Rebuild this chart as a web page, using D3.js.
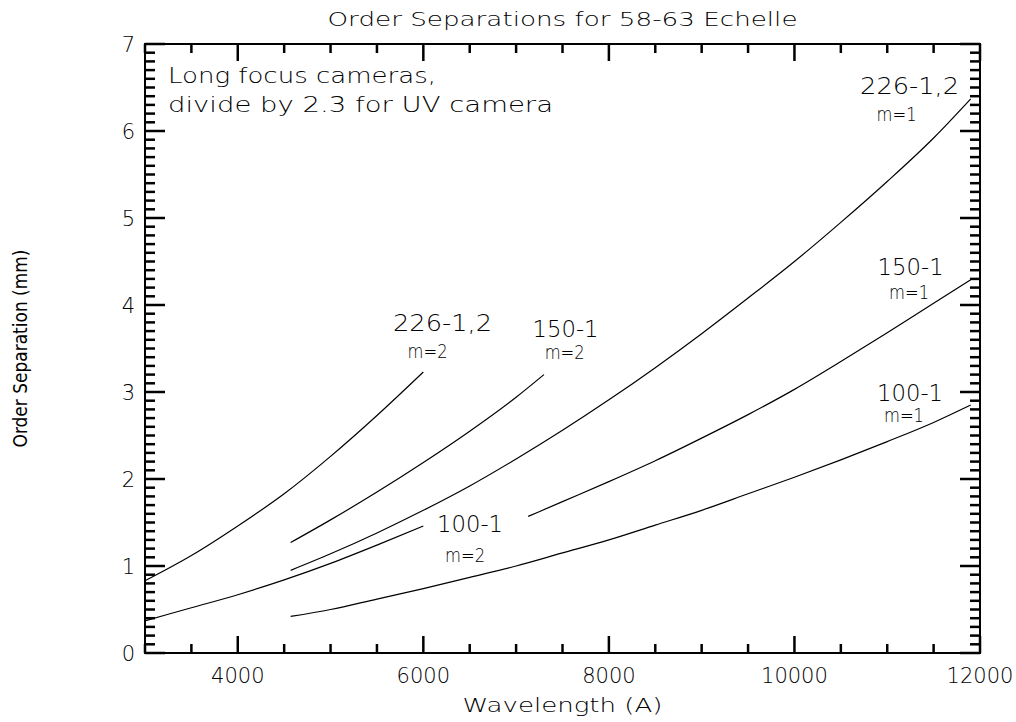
<!DOCTYPE html>
<html>
<head>
	<meta charset="utf-8">
	<title>Order Separations for 58-63 Echelle</title>
	<style>
		body { margin: 0; background: #fff; }
		svg { display: block; background: #fff; }
		text { font-family: "DejaVu Sans", sans-serif; font-weight: 200; fill: #000; }
		.ticklabel { font-size: 21px; }
	</style>
</head>
<body>
<div id="chart"></div>
<script src="https://d3js.org/d3.v7.min.js"></script>
<script>
	// curves: [wavelength (A), separation (mm)]
	var g226m2 = [[3000,0.83],[3500,1.12],[4000,1.46],[4500,1.83],[5000,2.26],[5500,2.73],[6000,3.23]];
	var g100m2 = [[3000,0.37],[3500,0.52],[4000,0.67],[4500,0.84],[5000,1.03],[5500,1.24],[6000,1.46]];
	var g150m2 = [[4570,1.27],[5000,1.53],[5500,1.85],[6000,2.19],[6500,2.55],[7000,2.94],[7300,3.20]];
	var g226m1 = [[4570,0.95],[5000,1.14],[5500,1.38],[6000,1.64],[6500,1.92],[7000,2.23],[7500,2.56],[8000,2.91],
		[8500,3.28],[9000,3.67],[9500,4.08],[10000,4.50],[10500,4.95],[11000,5.42],[11500,5.92],[11900,6.37]];
	var g150m1 = [[7130,1.57],[7500,1.74],[8000,1.97],[8500,2.21],[9000,2.47],[9500,2.74],[10000,3.03],
		[10500,3.35],[11000,3.68],[11500,4.02],[11900,4.29]];
	var g100m1 = [[4570,0.42],[5000,0.50],[5500,0.62],[6000,0.74],[6500,0.87],[7000,1.00],[7500,1.15],[8000,1.30],
		[8500,1.47],[9000,1.64],[9500,1.83],[10000,2.02],[10500,2.22],[11000,2.43],[11500,2.65],[11900,2.85]];

	var curves = [g226m2, g100m2, g150m2, g226m1, g150m1, g100m1];

	// tick values
	var xTicks = [4000, 6000, 8000, 10000, 12000];
	var yTicks = [0, 1, 2, 3, 4, 5, 6, 7];

	// curve labels: grating, order, anchor in data units
	var labelNames = ["226-1,2", "150-1", "100-1", "226-1,2", "150-1", "100-1"];
	var labelOrders = ["m=2", "m=2", "m=2", "m=1", "m=1", "m=1"];
	var labelAt = [[6207,3.70],[7533,3.63],[6504,1.39],[11241,6.43],[11252,4.34],[11246,2.90]];
	var orderAt = [[6046,3.39],[7523,3.38],[6450,1.05],[11101,6.12],[11236,4.07],[11181,2.65]];

	var margin = {top: 44, right: 36, bottom: 69, left: 145},
		width = 1016 - margin.left - margin.right,
		height = 722 - margin.top - margin.bottom;

	var root = d3.select("#chart")
		.append("svg")
			.attr("width", 1016)
			.attr("height", 722);
	var svg = root.append("g")
			.attr("transform", "translate(" + margin.left + "," + margin.top + ")");

	var x = d3.scaleLinear().domain([3000, 12000]).range([0, width]);
	var y = d3.scaleLinear().domain([0, 7]).range([height, 0]);

	var xMinor = d3.range(3000, 12001, 500);
	var yMinor = d3.range(0, 71, 1).map(function(d) { return d / 10; });

	svg.append("rect")
		.attr("width", width).attr("height", height)
		.attr("fill", "none")
		.attr("stroke", "#000")
		.attr("stroke-width", 2);

	// curves
	var line = d3.line()
		.x(function(d) { return x(d[0]); })
		.y(function(d) { return y(d[1]); })
		.curve(d3.curveMonotoneX);
	svg.selectAll("path.curve")
		.data(curves)
		.enter()
		.append("path")
		.attr("class", "curve")
		.attr("fill", "none")
		.attr("stroke", "#000")
		.attr("stroke-width", 1.2)
		.attr("d", line);

	// inward ticks on all four sides, long ones on the labelled values
	function xLen(d) { return d % 2000 === 0 ? 17 : 9; }
	function yLen(d) { return Math.abs(d - Math.round(d)) < 1e-6 ? 20 : 10; }

	var segs = [];
	xMinor.forEach(function(d) {
		segs.push([[x(d), height], [x(d), height - xLen(d)]]);
		segs.push([[x(d), 0], [x(d), xLen(d)]]);
	});
	yMinor.forEach(function(d) {
		segs.push([[0, y(d)], [yLen(d), y(d)]]);
		segs.push([[width, y(d)], [width - yLen(d), y(d)]]);
	});
	var seg = d3.line();
	root.append("g")
		.attr("transform", "translate(" + margin.left + "," + margin.top + ")")
		.selectAll("path")
		.data(segs)
		.enter()
		.append("path")
		.attr("d", seg)
		.style("fill", "none")
		.style("stroke", "#000")
		.style("stroke-width", "2.5px")
		.style("stroke-linecap", "butt");

	svg.selectAll("text.xlab").data(xTicks).enter().append("text")
		.attr("class", "ticklabel")
		.attr("x", x).attr("y", height + 30)
		.attr("text-anchor", "middle")
		.text(d3.format("d"));
	svg.selectAll("text.ylab").data(yTicks).enter().append("text")
		.attr("class", "ticklabel")
		.attr("x", -10).attr("y", function(d) { return y(d) + 8; })
		.attr("text-anchor", "end")
		.text(d3.format("d"));

	// curve labels
	svg.selectAll("text.gname")
		.data(labelNames)
		.enter()
		.append("text")
		.attr("class", "gname")
		.attr("x", function(d, i) { return x(labelAt[i][0]); })
		.attr("y", function(d, i) { return y(labelAt[i][1]); })
		.attr("text-anchor", "middle")
		.style("font-size", "23px")
		.attr("textLength", function(d) { return d.length === 7 ? 99 : 66; })
		.attr("lengthAdjust", "spacingAndGlyphs")
		.text(function(d) { return d; });
	svg.selectAll("text.gorder")
		.data(labelOrders)
		.enter()
		.append("text")
		.attr("class", "gorder")
		.attr("x", function(d, i) { return x(orderAt[i][0]); })
		.attr("y", function(d, i) { return y(orderAt[i][1]); })
		.attr("text-anchor", "middle")
		.style("font-size", "19px")
		.attr("textLength", 40)
		.attr("lengthAdjust", "spacingAndGlyphs")
		.text(function(d) { return d; });

	// note in the upper left corner
	svg.append("text")
		.attr("x", 23).attr("y", 39)
		.style("font-size", "22px")
		.attr("textLength", 268).attr("lengthAdjust", "spacingAndGlyphs")
		.text("Long focus cameras,");
	svg.append("text")
		.attr("x", 23).attr("y", 68)
		.style("font-size", "22px")
		.attr("textLength", 385).attr("lengthAdjust", "spacingAndGlyphs")
		.text("divide by 2.3 for UV camera");

	// title and axis titles
	root.append("text")
		.attr("x", margin.left + width / 2).attr("y", 26)
		.attr("text-anchor", "middle")
		.style("font-size", "19px")
		.attr("textLength", 470).attr("lengthAdjust", "spacingAndGlyphs")
		.text("Order Separations for 58-63 Echelle");
	root.append("text")
		.attr("x", margin.left + width / 2).attr("y", 712)
		.attr("text-anchor", "middle")
		.style("font-size", "20px")
		.attr("textLength", 200).attr("lengthAdjust", "spacingAndGlyphs")
		.text("Wavelength (A)");
	root.append("text")
		.attr("transform", "translate(27," + (margin.top + height / 2) + ")rotate(-90)")
		.attr("text-anchor", "middle")
		.style("font-family", "'DejaVu Sans Condensed', 'DejaVu Sans', sans-serif")
		.style("font-size", "20px")
		.style("font-weight", 400)
		.attr("textLength", 198).attr("lengthAdjust", "spacingAndGlyphs")
		.text("Order Separation (mm)");
</script>
</body>
</html>
